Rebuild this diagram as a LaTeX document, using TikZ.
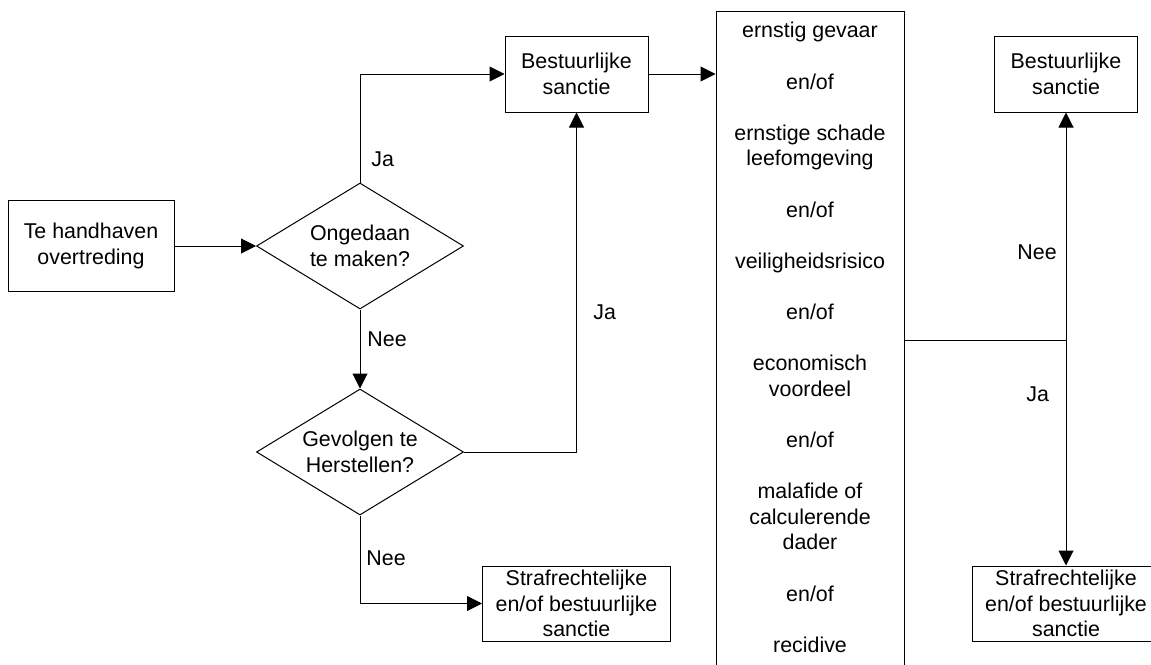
\documentclass[tikz,border=0pt]{standalone}
\usepackage{fontspec}
\setmainfont{Liberation Sans}
\usetikzlibrary{arrows.meta,shapes.geometric}
\tikzset{
	box/.style={draw, line width=0.5pt, inner sep=0pt, align=center, minimum width=71.5pt, minimum height=38pt},
	widebox/.style={box, minimum width=94pt, minimum height=37.5pt},
	ask/.style={draw, diamond, aspect=1.64, line width=0.5pt, inner sep=0pt, align=center, minimum width=103.5pt, minimum height=63pt},
	arr/.style={line width=0.5pt, -{Triangle[length=7.5pt,width=7.5pt]}},
	lbl/.style={anchor=west, inner sep=0pt}
}

\begin{document}
\begin{tikzpicture}[x=0.5pt, y=-0.5pt, font=\fontsize{10.7}{12.8}\selectfont]
	%%%%% START %%%%%
	\useasboundingbox (0, 0) rectangle (1151, 664);
	
	\node[box, minimum width=83pt, minimum height=45.5pt] (start) at (91, 246) {Te handhaven\\overtreding};
	\node[ask] (undo) at (360, 246) {Ongedaan\\te maken?};
	\node[ask] (repair) at (360, 452) {Gevolgen te\\Herstellen?};
	\node[box] (admin) at (576.5, 74) {Bestuurlijke\\sanctie};
	\node[widebox] (penal) at (576.5, 603.5) {Strafrechtelijke\\en/of bestuurlijke\\sanctie};
	
	\node[draw, line width=0.5pt, inner sep=0pt, minimum width=94pt, minimum height=345pt, anchor=north] (crit) at (810, 10.6) {};
	\node[anchor=north, inner sep=0pt, align=center] (crittext) at (810, 22) {ernstig gevaar\\[12.8pt]
		en/of\\[12.8pt]
		ernstige schade\\leefomgeving\\[12.8pt]
		en/of\\[12.8pt]
		veiligheidsrisico\\[12.8pt]
		en/of\\[12.8pt]
		economisch\\voordeel\\[12.8pt]
		en/of\\[12.8pt]
		malafide of\\calculerende\\dader\\[12.8pt]
		en/of\\[12.8pt]
		recidive};
	
	\node[box] (admin2) at (1066, 74) {Bestuurlijke\\sanctie};
	\node[widebox] (penal2) at (1066, 603.5) {Strafrechtelijke\\en/of bestuurlijke\\sanctie};
	\coordinate (split) at (1066, 340);
	
	\draw[arr] (start.east) -- (undo.west);
	\draw[arr] (undo.north) |- (admin.west);
	\draw[arr] (undo.south) -- (repair.north);
	\draw[arr] (repair.east) -| (admin.south);
	\draw[arr] (repair.south) |- (penal.west);
	\draw[arr] (admin.east) -- (admin.east -| crit.west);
	\draw[line width=0.5pt] (split -| crit.east) -- (split);
	\draw[arr] (split) -- (admin2.south);
	\draw[arr] (split) -- (penal2.north);
	
	\node[lbl] (ja1) at (371, 159) {Ja};
	\node[lbl] (nee1) at (367, 339) {Nee};
	\node[lbl] (ja2) at (593, 312) {Ja};
	\node[lbl] (nee2) at (366, 558) {Nee};
	\node[lbl] (nee3) at (1017, 252) {Nee};
	\node[lbl] (ja3) at (1026, 394) {Ja};
	
	%%%%% END %%%%%
\end{tikzpicture}
\end{document}
